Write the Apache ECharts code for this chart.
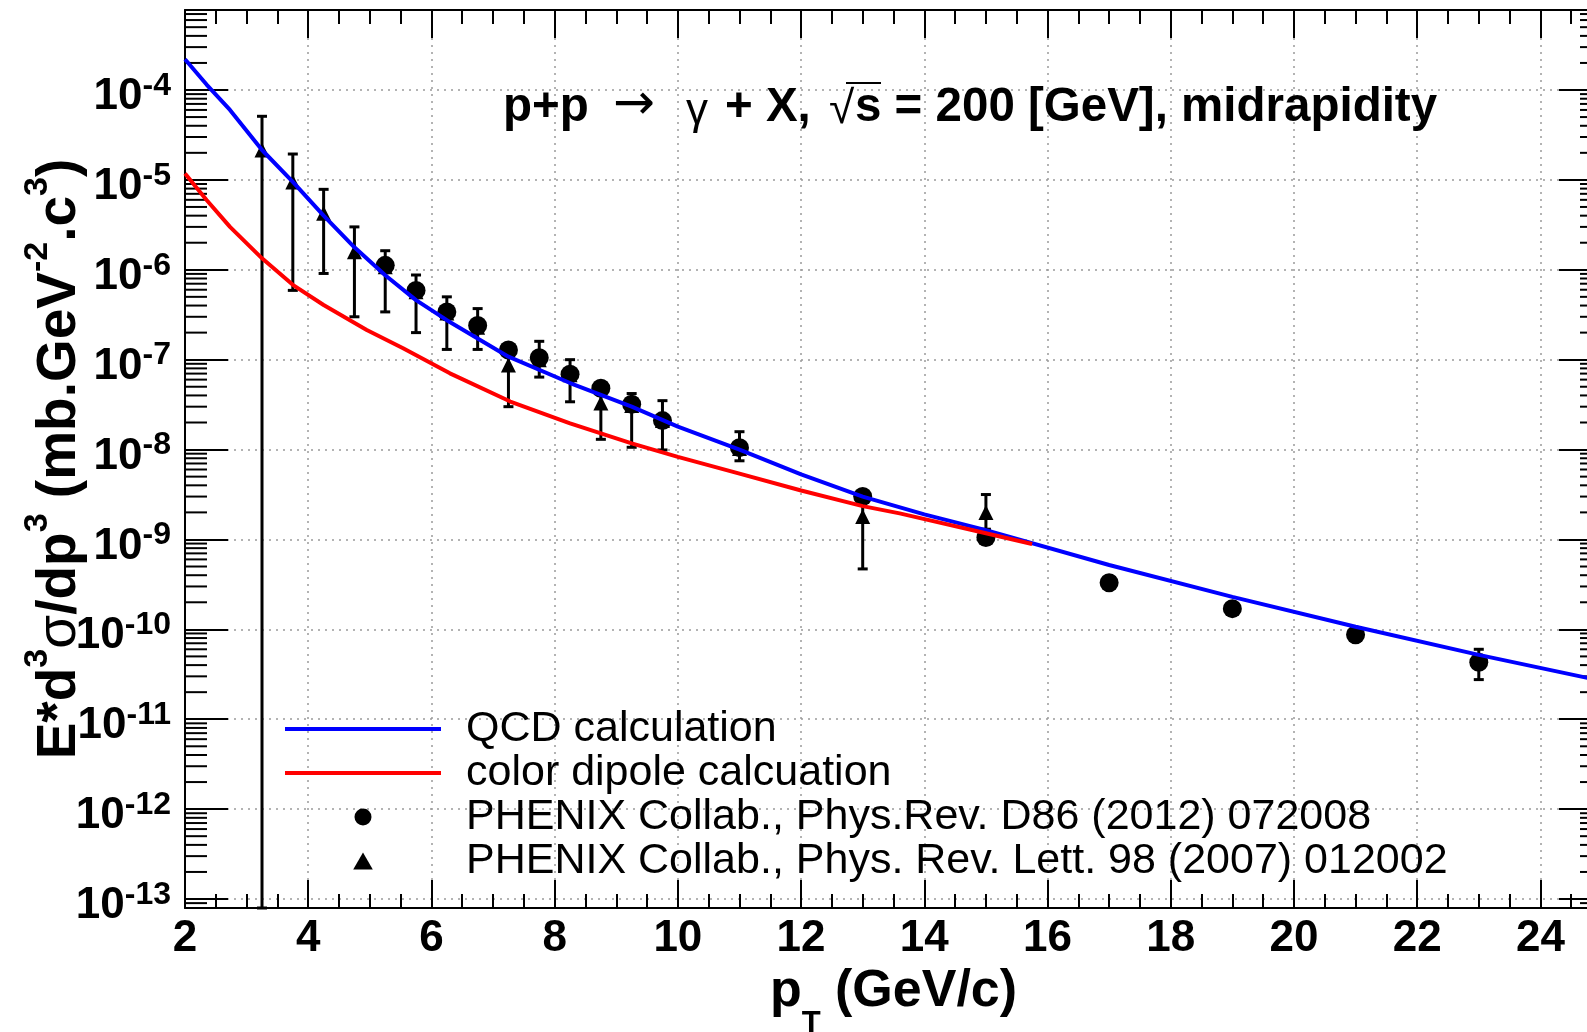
<!DOCTYPE html>
<html>
<head>
<meta charset="utf-8">
<script src="https://cdn.jsdelivr.net/npm/echarts@6/dist/echarts.min.js"></script>
<style>
html,body{margin:0;padding:0;background:#fff;overflow:hidden;}
#c{width:1605px;height:1032px;}
</style>
</head>
<body>
<div id="c"></div>
<script>
// ---------------- data ----------------
const qcdPt  = [2.0, 2.35, 2.73, 3.25, 3.75, 4.25, 4.75, 5.25, 5.75, 6.25, 7.25, 8.25, 9.25, 10, 11, 12, 13, 14, 15, 17, 19, 21, 23, 24.8];
const qcdVal = [2.2e-4, 1.15e-4, 6.0e-5, 2.15e-5, 9.5e-6, 4.0e-6, 1.78e-6, 8.7e-7, 4.6e-7, 2.75e-7, 1.08e-7, 5.5e-8, 3.0e-8, 1.8e-8, 1.0e-8, 5.3e-9, 3.0e-9, 1.9e-9, 1.27e-9, 5.2e-10, 2.3e-10, 1.07e-10, 5.2e-11, 2.85e-11];

const dipolePt  = [2.0, 2.35, 2.73, 3.25, 3.75, 4.25, 4.95, 5.54, 6.3, 7.28, 8.25, 9.25, 10, 11, 12, 13, 13.6, 15, 15.75];
const dipoleVal = [1.18e-5, 5.97e-6, 3.0e-6, 1.34e-6, 6.8e-7, 4.06e-7, 2.14e-7, 1.34e-7, 7.05e-8, 3.42e-8, 1.96e-8, 1.17e-8, 8.3e-9, 5.4e-9, 3.5e-9, 2.35e-9, 1.95e-9, 1.17e-9, 8.9e-10];

const phenix2012Pt  = [5.25, 5.75, 6.25, 6.75, 7.25, 7.75, 8.25, 8.75, 9.25, 9.75, 11, 13, 15, 17, 19, 21, 23];
const phenix2012Val = [1.12e-6, 5.9e-7, 3.4e-7, 2.4e-7, 1.28e-7, 1.05e-7, 6.9e-8, 4.8e-8, 3.2e-8, 2.1e-8, 1.05e-8, 3.0e-9, 1.05e-9, 3.3e-10, 1.7e-10, 8.7e-11, 4.3e-11];
const phenix2012Lo  = [1.0e-6, 5.3e-7, 3.1e-7, 2.2e-7, 1.18e-7, 9.6e-8, 6.3e-8, 4.4e-8, 2.9e-8, 1.9e-8, 9.4e-9, 2.7e-9, 9.3e-10, 2.9e-10, 1.48e-10, 7.4e-11, 2.76e-11];
const phenix2012Hi  = [1.25e-6, 6.6e-7, 3.8e-7, 2.65e-7, 1.4e-7, 1.15e-7, 7.6e-8, 5.3e-8, 3.5e-8, 2.35e-8, 1.17e-8, 3.3e-9, 1.17e-9, 3.7e-10, 1.92e-10, 1.0e-10, 6.0e-11];

const phenix2007Pt  = [3.25, 3.75, 4.25, 4.75, 5.25, 5.75, 6.25, 6.75, 7.25, 7.75, 8.25, 8.75, 9.25, 9.75, 11, 13, 15];
const phenix2007Val = [2.15e-5, 9.5e-6, 4.25e-6, 1.59e-6, 1.08e-6, 5.7e-7, 3.3e-7, 2.3e-7, 8.7e-8, 1.0e-7, 6.8e-8, 3.3e-8, 3.1e-8, 2.1e-8, 1.03e-8, 1.8e-9, 2.0e-9];
const phenix2007Lo  = [1e-14, 5.9e-7, 9.1e-7, 3.0e-7, 3.4e-7, 2.0e-7, 1.3e-7, 1.3e-7, 3.0e-8, 6.4e-8, 3.4e-8, 1.3e-8, 1.06e-8, 9.9e-9, 7.5e-9, 4.7e-10, 1.3e-9];
const phenix2007Hi  = [5.1e-5, 1.94e-5, 7.85e-6, 3.0e-6, 1.63e-6, 8.75e-7, 5.0e-7, 3.7e-7, 1.3e-7, 1.6e-7, 1.0e-7, 4.8e-8, 4.2e-8, 3.5e-8, 1.58e-8, 3.0e-9, 3.16e-9];

const seriesNames = ['QCD calculation', 'color dipole calcuation',
  'PHENIX Collab., Phys.Rev. D86 (2012) 072008',
  'PHENIX Collab., Phys. Rev. Lett. 98 (2007) 012002'];

// axis settings
const xMin = 2, xMax = 25, xStep = 2;
const yMin = Math.pow(10, -13.1), yMax = Math.pow(10, -3.11);
// minor log ticks (2..9 x 10^n)
const yMinorTicks = [];
for (let e = -14; e <= -4; e++) for (let k = 2; k <= 9; k++) yMinorTicks.push(k * Math.pow(10, e));

// ---------------- chart ----------------
const FONT = '"Liberation Sans", Arial, Helvetica, sans-serif';
const chart = echarts.init(document.getElementById('c'), null, {renderer: 'canvas'});

const zip = (a, b) => a.map((v, i) => [v, b[i]]);
const zip3 = (a, b, c) => a.map((v, i) => [v, b[i], c[i]]);

function errRender(params, api) {
  const cs = params.coordSys;
  const x = api.value(0);
  const pLo = api.coord([x, api.value(1)]);
  const pHi = api.coord([x, api.value(2)]);
  const yBot = Math.min(pLo[1], cs.y + cs.height);
  const yTop = Math.max(pHi[1], cs.y);
  const cap = 5;
  const st = {stroke: '#000', lineWidth: 3};
  return {type: 'group', children: [
    {type: 'line', shape: {x1: pHi[0], y1: yTop, x2: pHi[0], y2: yBot}, style: st},
    {type: 'line', shape: {x1: pHi[0] - cap, y1: yTop, x2: pHi[0] + cap, y2: yTop}, style: st},
    {type: 'line', shape: {x1: pLo[0] - cap, y1: yBot, x2: pLo[0] + cap, y2: yBot}, style: st}
  ]};
}

function minorTickRender(params, api) {
  const cs = params.coordSys;
  const p = api.coord([xMin, api.value(1)]);
  if (p[1] < cs.y + 0.5 || p[1] > cs.y + cs.height - 0.5) return null;
  const st = {stroke: '#000', lineWidth: 2};
  const L = 22;
  return {type: 'group', children: [
    {type: 'line', shape: {x1: cs.x, y1: p[1], x2: cs.x + L, y2: p[1]}, style: st},
    {type: 'line', shape: {x1: cs.x + cs.width - L, y1: p[1], x2: cs.x + cs.width, y2: p[1]}, style: st}
  ]};
}

const supRich = {
  b: {fontFamily: FONT, fontSize: 44, fontWeight: 'bold', color: '#000', lineHeight: 58, verticalAlign: 'bottom'},
  s: {fontFamily: FONT, fontSize: 32, fontWeight: 'bold', color: '#000', verticalAlign: 'top', padding: [9, 0, 0, 0]}
};

const option = {
  animation: false,
  backgroundColor: '#fff',
  grid: {left: 185, top: 10, width: 1417, height: 898, containLabel: false, outerBoundsMode: 'none'},
  xAxis: [
    {
      type: 'value', min: xMin, max: xMax, interval: xStep, position: 'bottom',
      axisLine: {show: true, onZero: false, lineStyle: {color: '#000', width: 2}},
      axisTick: {show: true, inside: true, length: 28, lineStyle: {color: '#000', width: 2}},
      minorTick: {show: true, splitNumber: 4, length: 14, lineStyle: {color: '#000', width: 2}},
      axisLabel: {show: true, showMaxLabel: false, margin: 9, color: '#000', fontFamily: FONT, fontSize: 44, fontWeight: 'bold'},
      splitLine: {show: true, lineStyle: {color: '#9a9a9a', width: 1.5, type: [2, 5]}},
      name: '{p|p}{t|T}{n| (GeV/c)}',
      nameLocation: 'middle', nameGap: 46,
      nameTextStyle: {
        rich: {
          p: {fontFamily: FONT, fontSize: 52, fontWeight: 'bold', color: '#000', verticalAlign: 'top', lineHeight: 50},
          n: {fontFamily: FONT, fontSize: 52, fontWeight: 'bold', color: '#000', verticalAlign: 'top', lineHeight: 50},
          t: {fontFamily: FONT, fontSize: 31, fontWeight: 'bold', color: '#000', verticalAlign: 'bottom', lineHeight: 74}
        }
      }
    },
    {
      type: 'value', min: xMin, max: xMax, interval: xStep, position: 'top',
      axisLine: {show: true, onZero: false, lineStyle: {color: '#000', width: 2}},
      axisTick: {show: true, inside: true, length: 28, lineStyle: {color: '#000', width: 2}},
      minorTick: {show: true, splitNumber: 4, length: 14, lineStyle: {color: '#000', width: 2}},
      axisLabel: {show: false},
      splitLine: {show: false}
    }
  ],
  yAxis: [
    {
      type: 'log', logBase: 10, min: yMin, max: yMax, splitNumber: 10, position: 'left',
      axisLine: {show: true, onZero: false, lineStyle: {color: '#000', width: 2}},
      axisTick: {show: true, inside: true, length: 43, lineStyle: {color: '#000', width: 2}},
      axisLabel: {
        show: true, showMinLabel: false, showMaxLabel: false, margin: 14,
        formatter: function (v) { return '{b|10}{s|' + Math.round(Math.log10(v)) + '}'; },
        rich: supRich
      },
      splitLine: {show: true, lineStyle: {color: '#9a9a9a', width: 1.5, type: [2, 5]}},
      name: '{b|E*d}{s|3}{g|σ}{b|/dp}{s|3}{b| (mb.GeV}{s|-2}{b|.c}{s|3}{b|)}',
      nameLocation: 'middle', nameGap: 98, nameRotate: 90, nameMoveOverlap: false,
      nameTextStyle: {
        rich: {
          b: {fontFamily: FONT, fontSize: 55, fontWeight: 'bold', color: '#000', verticalAlign: 'bottom', lineHeight: 66},
          g: {fontFamily: FONT, fontSize: 55, fontWeight: 'normal', color: '#000', verticalAlign: 'bottom', lineHeight: 66},
          s: {fontFamily: FONT, fontSize: 34, fontWeight: 'bold', color: '#000', verticalAlign: 'top'}
        }
      }
    },
    {
      type: 'log', logBase: 10, min: yMin, max: yMax, splitNumber: 10, position: 'right',
      axisLine: {show: true, onZero: false, lineStyle: {color: '#000', width: 2}},
      axisTick: {show: true, inside: true, length: 43, lineStyle: {color: '#000', width: 2}},
      axisLabel: {show: false},
      splitLine: {show: false}
    }
  ],
  legend: {
    orient: 'vertical', left: 278, top: 702,
    itemWidth: 156, itemHeight: 17, itemGap: 0,
    selectedMode: false, symbolKeepAspect: true,
    lineStyle: {width: 4},
    textStyle: {fontFamily: FONT, fontSize: 43, color: '#000', lineHeight: 44, padding: [0, 0, 0, 20]},
    data: [
      {name: seriesNames[0], itemStyle: {color: 'rgba(0,0,0,0)', borderWidth: 0}, lineStyle: {color: '#0000ff', width: 4}},
      {name: seriesNames[1], itemStyle: {color: 'rgba(0,0,0,0)', borderWidth: 0}, lineStyle: {color: '#ff0000', width: 4}},
      {name: seriesNames[2], icon: 'circle', itemStyle: {color: '#000', opacity: 1}},
      {name: seriesNames[3], icon: 'path://M0,13 L7.5,0 L15,13 Z', itemStyle: {color: '#000', opacity: 1}}
    ]
  },
  graphic: [
    {type: 'text', x: 503, y: 108, z: 100, style: {text: 'p+p', fontFamily: FONT, fontSize: 47.5, fontWeight: 'bold', fill: '#000', verticalAlign: 'middle', align: 'left'}},
    {type: 'text', x: 613, y: 106, z: 100, style: {text: '→', fontFamily: '"DejaVu Sans", sans-serif', fontSize: 50, fill: '#000', verticalAlign: 'middle', align: 'left'}},
    {type: 'text', x: 686, y: 112, z: 100, style: {text: 'γ', fontFamily: FONT, fontSize: 44, fill: '#000', verticalAlign: 'middle', align: 'left'}},
    {type: 'text', x: 725, y: 108, z: 100, style: {text: '+ X,', fontFamily: FONT, fontSize: 47.5, fontWeight: 'bold', fill: '#000', verticalAlign: 'middle', align: 'left'}},
    {type: 'text', x: 829, y: 110, z: 100, style: {text: '√', fontFamily: FONT, fontSize: 46, fill: '#000', verticalAlign: 'middle', align: 'left'}},
    {type: 'line', z: 100, shape: {x1: 846, y1: 83, x2: 881, y2: 83}, style: {stroke: '#000', lineWidth: 2}},
    {type: 'text', x: 855, y: 108, z: 100, style: {text: 's = 200 [GeV], midrapidity', fontFamily: FONT, fontSize: 47.5, fontWeight: 'bold', fill: '#000', verticalAlign: 'middle', align: 'left'}}
  ],
  series: [
    {
      name: 'minorTicks', type: 'custom', silent: true, z: 1,
      xAxisIndex: 0, yAxisIndex: 0,
      renderItem: minorTickRender,
      encode: {x: 0, y: 1},
      data: yMinorTicks.map(v => [xMin, v])
    },
    {
      name: 'err2007', type: 'custom', silent: true, z: 2,
      renderItem: errRender, encode: {x: 0, y: [1, 2]},
      data: zip3(phenix2007Pt, phenix2007Lo, phenix2007Hi)
    },
    {
      name: 'err2012', type: 'custom', silent: true, z: 2,
      renderItem: errRender, encode: {x: 0, y: [1, 2]},
      data: zip3(phenix2012Pt, phenix2012Lo, phenix2012Hi)
    },
    {
      name: seriesNames[3], type: 'scatter', z: 3, silent: true,
      symbol: 'triangle', symbolSize: 15,
      itemStyle: {color: '#000', opacity: 1},
      data: zip(phenix2007Pt, phenix2007Val)
    },
    {
      name: seriesNames[2], type: 'scatter', z: 3, silent: true,
      symbol: 'circle', symbolSize: 19,
      itemStyle: {color: '#000', opacity: 1},
      data: zip(phenix2012Pt, phenix2012Val)
    },
    {
      name: seriesNames[0], type: 'line', z: 4, silent: true,
      symbol: 'none', smooth: false, clip: true,
      lineStyle: {color: '#0000ff', width: 4},
      itemStyle: {color: '#0000ff'},
      data: zip(qcdPt, qcdVal)
    },
    {
      name: seriesNames[1], type: 'line', z: 5, silent: true,
      symbol: 'none', smooth: false, clip: true,
      lineStyle: {color: '#ff0000', width: 4},
      itemStyle: {color: '#ff0000'},
      data: zip(dipolePt, dipoleVal)
    }
  ]
};
chart.setOption(option);
</script>
</body>
</html>
